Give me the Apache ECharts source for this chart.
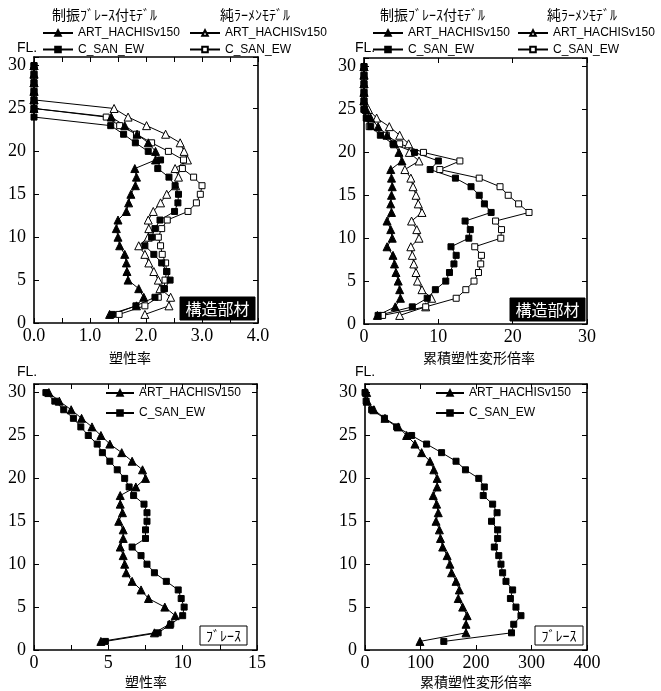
<!DOCTYPE html>
<html><head><meta charset="utf-8">
<script src="https://cdn.jsdelivr.net/npm/echarts@6/dist/echarts.min.js"></script>
<style>html,body{margin:0;padding:0;background:#fff}#c{width:661px;height:691px}</style>
</head><body><div id="c"></div>
<script>
// ---- data ----
const floors = [1,2,3,4,5,6,7,8,9,10,11,12,13,14,15,16,17,18,19,20,21,22,23,24,25,26,27,28,29,30];
// top-left: 塑性率 (構造部材)
const tlBraceART = [1.35,1.83,1.96,1.87,1.68,1.66,1.65,1.62,1.53,1.50,1.47,1.50,1.65,1.69,1.73,1.81,1.83,1.80,2.17,2.17,2.04,1.84,1.62,1.38,0,0,0,0,0,0];
const tlBraceCSAN = [1.40,1.82,2.16,2.33,2.43,2.37,2.28,2.14,1.98,2.10,2.16,2.25,2.51,2.57,2.58,2.52,2.41,2.21,2.26,2.04,1.81,1.60,1.37,0,0,0,0,0,0,0];
const tlFrameART = [1.98,2.41,2.44,2.25,2.22,2.14,2.05,1.98,1.87,2.04,2.05,2.04,2.13,2.26,2.37,2.53,2.58,2.52,2.74,2.68,2.61,2.35,2.01,1.68,1.43,0,0,0,0,0];
const tlFrameCSAN = [1.52,1.98,2.22,2.32,2.34,2.37,2.35,2.29,2.26,2.22,2.28,2.38,2.75,2.90,2.97,3.00,2.85,2.65,2.67,2.40,2.10,1.83,1.53,1.29,0,0,0,0,0,0];
// top-right: 累積塑性変形倍率 (構造部材)
const trBraceART = [1.8,4.2,4.9,4.8,4.6,4.3,4.1,3.9,3.1,3.8,3.6,3.1,3.7,3.6,3.7,3.8,3.7,3.6,5.1,4.7,4.1,3.1,1.9,0.9,0.3,0,0,0,0,0];
const trBraceCSAN = [1.9,6.5,8.5,9.6,11.0,11.5,12.1,12.4,11.7,14.1,14.3,13.6,17.1,16.2,15.5,14.4,12.3,8.9,10.0,6.8,3.9,2.2,0.9,0.3,0,0,0,0,0,0];
const trFrameART = [4.8,8.3,9.1,7.8,7.2,7.0,6.7,6.5,6.3,7.4,7.1,6.4,7.8,7.3,7.0,6.6,6.3,5.5,7.4,6.1,6.0,4.8,3.4,1.7,0.6,0,0,0,0,0];
const trFrameCSAN = [2.5,8.3,12.4,13.7,14.8,15.4,15.7,15.8,14.9,18.4,18.5,17.7,22.2,20.8,19.4,18.3,15.5,10.2,12.9,8.0,4.8,3.0,0.7,0.4,0,0,0,0,0,0];
// bottom-left: 塑性率 (ブレース)
const blART = [4.5,8.1,9.1,9.5,8.8,7.7,7.2,6.6,6.2,6.1,6.0,5.8,6.0,6.0,5.7,5.95,5.8,5.8,6.85,7.5,7.3,6.6,5.9,5.1,4.5,3.9,3.2,2.5,1.7,1.0];
const blCSAN = [4.8,8.35,9.2,10.0,10.1,9.9,9.7,8.9,8.1,7.6,7.2,6.6,7.5,7.5,7.6,7.6,7.4,6.7,6.4,6.1,5.6,5.1,4.6,4.25,3.65,3.15,2.65,2.0,1.4,0.8];
// bottom-right: 累積塑性変形倍率 (ブレース)
const brART = [99,182,182,184,176,168,170,164,156,153,148,140,136,134,128,132,129,123,130,130,124,117,102,90,75,60,36,16,4,3];
const brCSAN = [142,264,268,281,272,262,266,254,248,245,241,233,239,239,228,238,230,213,215,205,181,164,138,111,84,57,35,12,2,0];
// ticks
const yTickLabels = [0,5,10,15,20,25,30];
const tlXTickLabels = [0,1,2,3,4];
const trXTickLabels = [0,10,20,30];
const blXTickLabels = [0,5,10,15];
const brXTickLabels = [0,100,200,300,400];
const seriesLabels = {
  TLbA:'ART_HACHISv150', TLbC:'C_SAN_EW', TLfA:'ART_HACHISv150', TLfC:'C_SAN_EW',
  TRbA:'ART_HACHISv150', TRbC:'C_SAN_EW', TRfA:'ART_HACHISv150', TRfC:'C_SAN_EW',
  BLA:'ART_HACHISv150', BLC:'C_SAN_EW', BRA:'ART_HACHISv150', BRC:'C_SAN_EW'
};

// ---- chart ----
const SERIF = 'Liberation Serif', SANS = 'Liberation Sans', JP = 'Noto Sans CJK JP';
const chart = echarts.init(document.getElementById('c'));

const grids = [
  {left:34, top:57, width:224, height:266},
  {left:364, top:58, width:223, height:266},
  {left:34, top:384, width:223, height:266},
  {left:365, top:384, width:222, height:266}
];
const xSpec = [
  {max:4, interval:0.5, labels:tlXTickLabels, fmt:v=>v.toFixed(1)},
  {max:30, interval:10, labels:trXTickLabels, fmt:v=>String(v)},
  {max:15, interval:2.5, labels:blXTickLabels, fmt:v=>String(v)},
  {max:400, interval:100, labels:brXTickLabels, fmt:v=>String(v)}
];
const xAxis = [], yAxis = [];
grids.forEach((g, gi) => {
  const s = xSpec[gi];
  ['bottom','top'].forEach(pos => xAxis.push({
    type:'value', gridIndex:gi, position:pos, min:0, max:s.max, interval:s.interval,
    axisLine:{show:true, onZero:false, lineStyle:{color:'#000', width:1.6}},
    axisTick:{show:true, inside:true, length:5, lineStyle:{color:'#000', width:1}},
    axisLabel:{show:pos==='bottom', color:'#000', fontFamily:SERIF, fontSize:18, margin:4,
      formatter:v => s.labels.some(l => Math.abs(l - v) < 1e-9) ? s.fmt(v) : ''},
    splitLine:{show:false}
  }));
  ['left','right'].forEach(pos => yAxis.push({
    type:'value', gridIndex:gi, position:pos, min:0, max:31, interval:5,
    axisLine:{show:true, onZero:false, lineStyle:{color:'#000', width:1.6}},
    axisTick:{show:true, inside:true, length:5, lineStyle:{color:'#000', width:1}},
    axisLabel:{show:pos==='left', color:'#000', fontFamily:SERIF, fontSize:18, margin:8,
      formatter:v => yTickLabels.includes(v) ? String(v) : ''},
    splitLine:{show:false}
  }));
});

function mk(name, vals, gi, symbol, filled) {
  return {
    name, type:'line', xAxisIndex:gi*2, yAxisIndex:gi*2,
    data: vals.map((v, i) => [v, floors[i]]),
    symbol, symbolSize: symbol === 'triangle' ? 8 : 6, showSymbol:true, clip:false,
    lineStyle:{color:'#000', width:1},
    itemStyle:{color: filled ? '#000' : '#fff', borderColor:'#000', borderWidth:1},
    emphasis:{disabled:true}, animation:false
  };
}
const series = [
  mk('TLfA', tlFrameART, 0, 'triangle', false),
  mk('TLfC', tlFrameCSAN, 0, 'rect', false),
  mk('TLbA', tlBraceART, 0, 'triangle', true),
  mk('TLbC', tlBraceCSAN, 0, 'rect', true),
  mk('TRfA', trFrameART, 1, 'triangle', false),
  mk('TRfC', trFrameCSAN, 1, 'rect', false),
  mk('TRbA', trBraceART, 1, 'triangle', true),
  mk('TRbC', trBraceCSAN, 1, 'rect', true),
  mk('BLA', blART, 2, 'triangle', true),
  mk('BLC', blCSAN, 2, 'rect', true),
  mk('BRA', brART, 3, 'triangle', true),
  mk('BRC', brCSAN, 3, 'rect', true)
];

function lg(data, left, top, gap, w) {
  return {data, left, top, orient:'vertical', padding:0, itemGap:gap, itemWidth:w, itemHeight:7,
    selectedMode:false, formatter:n => seriesLabels[n],
    textStyle:{color:'#000', fontFamily:SANS, fontSize:12, lineHeight:14}};
}
const legend = [
  lg(['TLbA','TLbC'], 42, 26, 2.5, 30),
  lg(['TLfA','TLfC'], 189, 26, 2.5, 30),
  lg(['TRbA','TRbC'], 372, 26, 2.5, 30),
  lg(['TRfA','TRfC'], 517, 26, 2.5, 30),
  lg(['BLA','BLC'], 105, 386, 6, 28),
  lg(['BRA','BRC'], 435, 386, 6, 28)
];

function txt(text, x, y, size, family, align, fill) {
  return {type:'text', x, y, z:100, style:{text, font: size + 'px "' + family + '"', fill: fill || '#000',
    align: align || 'center', verticalAlign:'middle'}};
}
function box(x, y, w, h, dark) {
  return {type:'rect', z:99, shape:{x, y, width:w, height:h},
    style:{fill: dark ? '#000' : '#fff', stroke:'#000', lineWidth:1}};
}
const graphic = [
  txt('制振ﾌﾞﾚｰｽ付ﾓﾃﾞﾙ', 52, 15, 14, JP, 'left'),
  txt('純ﾗｰﾒﾝﾓﾃﾞﾙ', 220, 15, 14, JP, 'left'),
  txt('制振ﾌﾞﾚｰｽ付ﾓﾃﾞﾙ', 380, 15, 14, JP, 'left'),
  txt('純ﾗｰﾒﾝﾓﾃﾞﾙ', 547, 15, 14, JP, 'left'),
  txt('FL.', 17, 48, 14, SANS, 'left'),
  txt('FL.', 355, 48, 14, SANS, 'left'),
  txt('FL.', 17, 372, 14, SANS, 'left'),
  txt('FL.', 355, 372, 14, SANS, 'left'),
  txt('塑性率', 130, 358, 14, JP),
  txt('累積塑性変形倍率', 479, 358, 14, JP),
  txt('塑性率', 146, 682, 14, JP),
  txt('累積塑性変形倍率', 476, 682, 14, JP),
  box(180, 297, 75, 23, true), txt('構造部材', 217.5, 308.5, 16, JP, 'center', '#fff'),
  box(510, 298, 75, 23, true), txt('構造部材', 547.5, 309.5, 16, JP, 'center', '#fff'),
  box(200, 626, 47, 19, false), txt('ﾌﾞﾚｰｽ', 223.5, 635.5, 14, JP),
  box(535, 626, 48, 19, false), txt('ﾌﾞﾚｰｽ', 559, 635.5, 14, JP)
];

chart.setOption({
  animation:false, backgroundColor:'#fff',
  grid: grids, xAxis, yAxis, series, legend, graphic
});
</script>
</body></html>
